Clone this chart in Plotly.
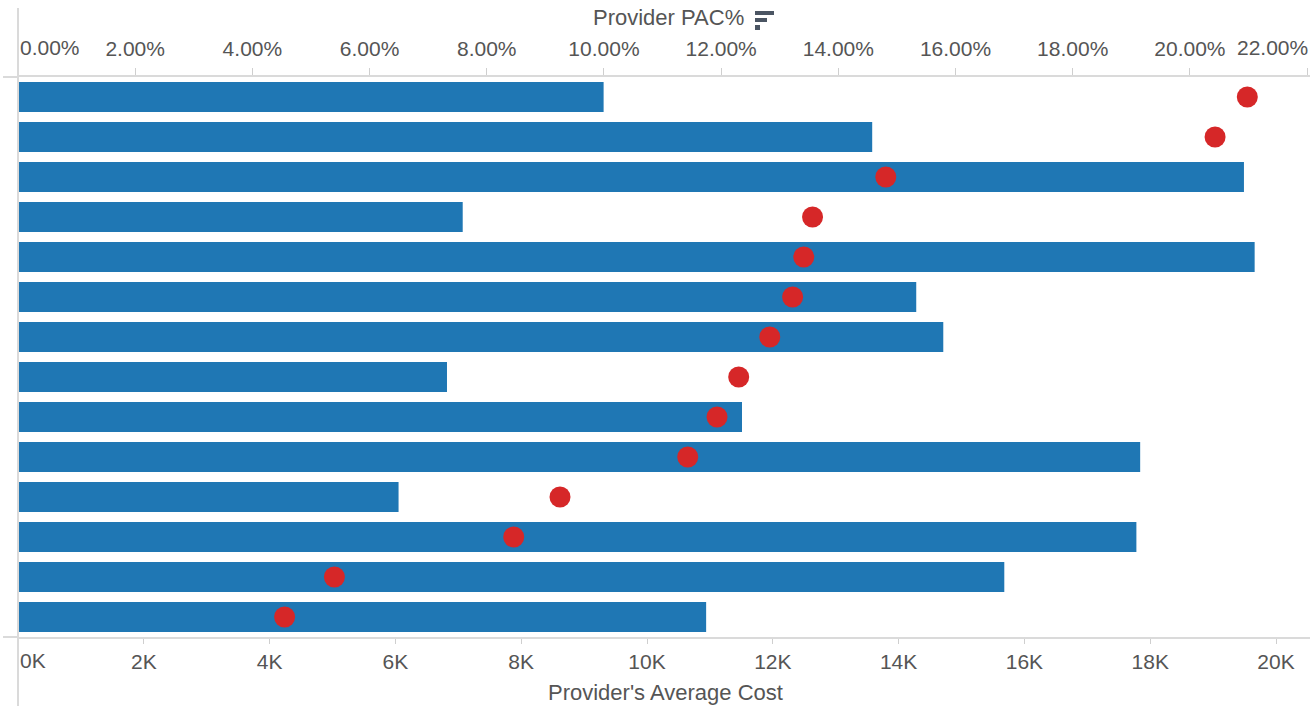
import plotly.graph_objects as go

# ---- data ----
providers = ["R1", "R2", "R3", "R4", "R5", "R6", "R7",
             "R8", "R9", "R10", "R11", "R12", "R13", "R14"]
avg_cost = [9310, 13580, 19490, 7070, 19660, 14280, 14710,
            6820, 11510, 17840, 6050, 17780, 15680, 10940]
pac_pct = [20.98, 20.43, 14.81, 13.56, 13.41, 13.22, 12.83,
           12.30, 11.93, 11.43, 9.25, 8.46, 5.40, 4.55]

cost_ticks = [0, 2000, 4000, 6000, 8000, 10000, 12000, 14000, 16000, 18000, 20000]
cost_labels = ["", "2K", "4K", "6K", "8K", "10K", "12K", "14K", "16K", "18K", "20K"]
pac_ticks = [0, 2, 4, 6, 8, 10, 12, 14, 16, 18, 20, 22]
pac_labels = ["", "2.00%", "4.00%", "6.00%", "8.00%", "10.00%", "12.00%",
              "14.00%", "16.00%", "18.00%", "20.00%", ""]

# ---- layout constants (pixels) ----
W, H = 1315, 706
L, R, T, B = 18, 5, 77, 69
PW = W - L - R
PH = H - T - B

def px(x):
    return (x - L) / PW

def py(y):
    return (H - B - y) / PH

FONT = "Arial, 'Liberation Sans', sans-serif"
TXT = "#555555"
LINE = "#dadada"

fig = go.Figure()
fig.add_trace(go.Bar(
    y=providers, x=avg_cost, orientation="h",
    marker=dict(color="#1f77b4", line=dict(width=0)),
    width=0.75, xaxis="x", yaxis="y", showlegend=False,
))
fig.add_trace(go.Scatter(
    y=providers, x=pac_pct, mode="markers",
    marker=dict(color="#d62728", size=21, line=dict(width=0)),
    xaxis="x2", yaxis="y", showlegend=False,
))

axis_common = dict(
    showgrid=False, zeroline=False, showline=True, linecolor=LINE, linewidth=2,
    ticks="outside", tickcolor="#cfcfcf", tickwidth=1, automargin=False,
    tickfont=dict(family=FONT, size=21, color=TXT),
)

fig.update_layout(
    width=W, height=H,
    margin=dict(l=L, r=R, t=T, b=B, pad=0, autoexpand=False),
    paper_bgcolor="white", plot_bgcolor="white",
    bargap=0.25,
    xaxis=dict(range=[0, 20540], tickvals=cost_ticks, ticktext=cost_labels,
               side="bottom", ticklen=5, **axis_common),
    xaxis2=dict(range=[0, 22.05], tickvals=pac_ticks, ticktext=pac_labels,
                side="top", overlaying="x", ticklen=7, ticklabelstandoff=4,
                **axis_common),
    yaxis=dict(type="category", categoryorder="array", categoryarray=providers,
               range=[13.5, -0.5], showticklabels=False, showgrid=False,
               zeroline=False, showline=False, ticks="", automargin=False),
    font=dict(family=FONT, color=TXT),
)

annotations = [
    dict(text="Provider PAC%", xref="paper", yref="paper", x=px(668), y=py(18),
         xanchor="center", yanchor="middle", showarrow=False,
         font=dict(family=FONT, size=22, color=TXT)),
    dict(text="Provider's Average Cost", xref="paper", yref="paper", x=px(665), y=py(692),
         xanchor="center", yanchor="middle", showarrow=False,
         font=dict(family=FONT, size=22, color=TXT)),
    dict(text="0.00%", xref="x2", yref="paper", x=0, y=py(48),
         xanchor="left", yanchor="middle", showarrow=False,
         font=dict(family=FONT, size=21, color=TXT)),
    dict(text="22.00%", xref="paper", yref="paper", x=1, y=py(48),
         xanchor="right", yanchor="middle", showarrow=False,
         font=dict(family=FONT, size=21, color=TXT)),
    dict(text="0K", xref="x", yref="paper", x=0, y=py(660),
         xanchor="left", yanchor="middle", showarrow=False,
         font=dict(family=FONT, size=21, color=TXT)),
]
fig.update_layout(annotations=annotations)

icon_col = "#4b5563"
shapes = [
    # extended frame lines
    dict(type="line", xref="paper", yref="paper", x0=px(3), x1=0, y0=1, y1=1,
         line=dict(color=LINE, width=2)),
    dict(type="line", xref="paper", yref="paper", x0=px(3), x1=0, y0=0, y1=0,
         line=dict(color=LINE, width=2)),
    dict(type="line", xref="paper", yref="paper", x0=px(18), x1=px(18), y0=py(8), y1=py(706),
         line=dict(color=LINE, width=2)),
    # sort icon
    dict(type="rect", xref="paper", yref="paper", x0=px(755), x1=px(774), y0=py(15), y1=py(11),
         fillcolor=icon_col, line=dict(width=0)),
    dict(type="rect", xref="paper", yref="paper", x0=px(755), x1=px(767), y0=py(22), y1=py(18),
         fillcolor=icon_col, line=dict(width=0)),
    dict(type="rect", xref="paper", yref="paper", x0=px(755), x1=px(760), y0=py(30), y1=py(25),
         fillcolor=icon_col, line=dict(width=0)),
]
fig.update_layout(shapes=shapes)

fig.write_html(
    "out.html",
    config={"displayModeBar": False},
    post_script="document.body.style.margin='0';document.body.style.overflow='hidden';",
)
